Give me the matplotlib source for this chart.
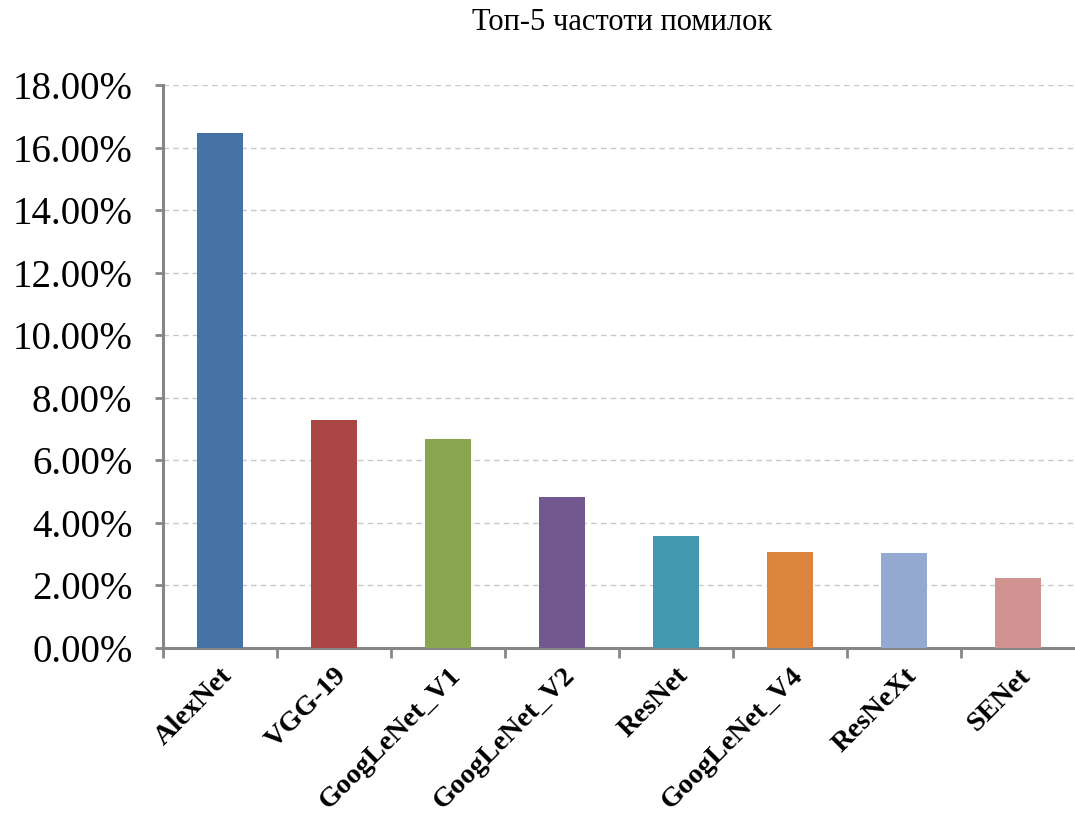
import numpy as np
import matplotlib
matplotlib.use("Agg")
import matplotlib.pyplot as plt
from matplotlib.ticker import FuncFormatter

models = ["AlexNet", "VGG-19", "GoogLeNet_V1", "GoogLeNet_V2",
          "ResNet", "GoogLeNet_V4", "ResNeXt", "SENet"]
top5_error = [16.45, 7.3, 6.67, 4.82, 3.57, 3.08, 3.03, 2.25]
bar_colors = ["#4572A7", "#AA4643", "#89A54E", "#71588F",
              "#4198AF", "#DB843D", "#93A9CF", "#D19392"]
title = "Топ-5 частоти помилок"


def main():
    plt.rcParams['font.family'] = ['Liberation Serif', 'DejaVu Serif']
    fig = plt.figure(figsize=(10.75, 8.19), dpi=100)
    ax = fig.add_axes([0.1516, 0.2088, 0.8484, 0.6874])

    x = np.arange(len(models))
    ax.bar(x, top5_error, width=0.4, color=bar_colors, zorder=3)

    ax.set_xlim(-0.5, len(models) - 0.5)
    ax.set_ylim(0, 18)
    ax.set_yticks(np.arange(0, 19, 2))
    ax.yaxis.set_major_formatter(FuncFormatter(lambda v, p: f"{v:.2f}%"))
    ax.tick_params(axis='y', labelsize=28, length=6, width=2,
                   color='#868686', pad=16)

    ax.set_xticks(x)
    ax.set_xticklabels(models, rotation=45, ha='right',
                       rotation_mode='anchor', fontsize=20.5,
                       fontweight='bold')
    ax.tick_params(axis='x', which='major', length=0, pad=11)
    ax.set_xticks(np.arange(len(models)) - 0.5, minor=True)
    ax.tick_params(axis='x', which='minor', length=7, width=2,
                   color='#868686')

    ax.grid(axis='y', color='#c8c8c8', linestyle=(0, (4, 3)),
            linewidth=1, zorder=0)
    for side in ['top', 'right']:
        ax.spines[side].set_visible(False)
    for side in ['left', 'bottom']:
        ax.spines[side].set_color('#868686')
        ax.spines[side].set_linewidth(2.2)

    fig.text(0.579, 0.972, title, ha='center', va='center', fontsize=22)

    fig.savefig("out.png", dpi=100)


if __name__ == '__main__':
    main()
